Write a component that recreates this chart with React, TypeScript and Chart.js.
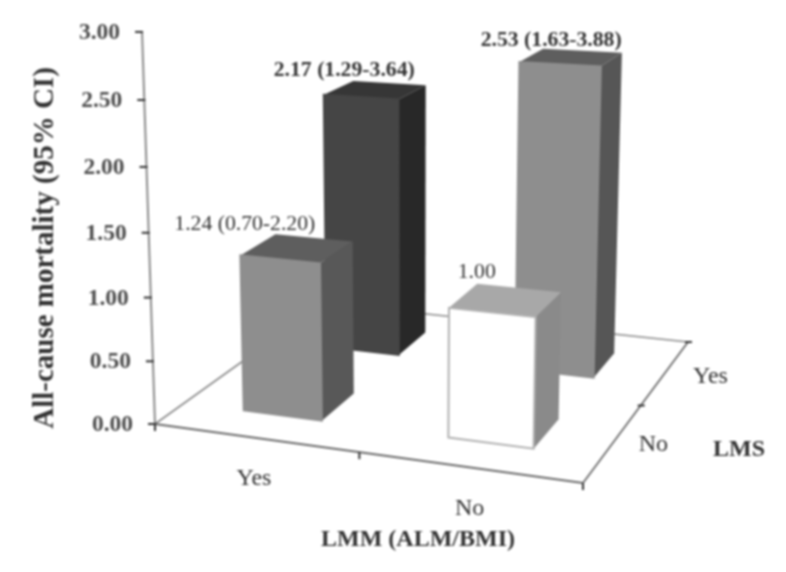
import React, { useEffect, useRef } from "react";
import { Chart, registerables } from "chart.js";

Chart.register(...registerables);

const lmmCategories = ["Yes", "No"];
const lmsCategories = ["No", "Yes"];
const hrWhenLmsNo = [1.24, 1.0];
const hrWhenLmsYes = [2.17, 2.53];
const labelsWhenLmsNo = ["1.24 (0.70-2.20)", "1.00"];
const labelsWhenLmsYes = ["2.17 (1.29-3.64)", "2.53 (1.63-3.88)"];
const yTitle = "All-cause mortality (95% CI)";
const xTitle = "LMM (ALM/BMI)";
const zTitle = "LMS";

const SERIF = '"Liberation Serif", "Times New Roman", serif';
const TEXT = "#333";

// perspective camera: floor corners in the picture and the vertical vanishing point
const FLOOR = { p00: [155, 424], p10: [583, 483], p11: [688, 342], p01: [324, 303] };
const VANISH = [412, 8200];
const RISE = 0.016;
const HALF = 0.098;

function makeProjector() {
  const [x0, y0] = FLOOR.p00;
  const [x1, y1] = FLOOR.p10;
  const [x2, y2] = FLOOR.p11;
  const [x3, y3] = FLOOR.p01;
  const dx1 = x1 - x2, dx2 = x3 - x2, sx = x0 - x1 + x2 - x3;
  const dy1 = y1 - y2, dy2 = y3 - y2, sy = y0 - y1 + y2 - y3;
  const den = dx1 * dy2 - dx2 * dy1;
  const g = (sx * dy2 - dx2 * sy) / den;
  const h = (dx1 * sy - sx * dy1) / den;
  const a = x1 - x0 + g * x1, b = x3 - x0 + h * x3;
  const d = y1 - y0 + g * y1, e = y3 - y0 + h * y3;
  return (u: number, v: number, value: number): [number, number] => {
    const t = RISE * value;
    const W = g * u + h * v + 1 - t;
    return [
      (a * u + b * v + x0 - t * VANISH[0]) / W,
      (d * u + e * v + y0 - t * VANISH[1]) / W,
    ];
  };
}

const project = makeProjector();

function poly(ctx: CanvasRenderingContext2D, pts: [number, number][], fill: string, stroke?: string) {
  ctx.beginPath();
  pts.forEach((p, i) => (i ? ctx.lineTo(p[0], p[1]) : ctx.moveTo(p[0], p[1])));
  ctx.closePath();
  ctx.fillStyle = fill;
  ctx.fill();
  if (stroke) {
    ctx.strokeStyle = stroke;
    ctx.lineWidth = 2;
    ctx.stroke();
  }
}

function seg(ctx: CanvasRenderingContext2D, a: number[], b: number[], color: string, w: number) {
  ctx.beginPath();
  ctx.moveTo(a[0], a[1]);
  ctx.lineTo(b[0], b[1]);
  ctx.strokeStyle = color;
  ctx.lineWidth = w;
  ctx.stroke();
}

function text(ctx: CanvasRenderingContext2D, s: string, x: number, y: number, font: string, align: CanvasTextAlign = "center", color: string = TEXT) {
  ctx.font = font;
  ctx.fillStyle = color;
  ctx.textAlign = align;
  ctx.textBaseline = "middle";
  ctx.fillText(s, x, y);
}

const bars3d = {
  id: "bars3d",
  beforeDatasetsDraw(chart: any) {
    const ctx: CanvasRenderingContext2D = chart.ctx;
    const yScale = chart.scales.y;
    ctx.save();

    // floor and value axis
    const AXIS = "#8a8a8a";
    const c00 = project(0, 0, 0), c10 = project(1, 0, 0), c11 = project(1, 1, 0), c01 = project(0, 1, 0);
    seg(ctx, c00, c01, AXIS, 1.6);
    seg(ctx, c01, c11, AXIS, 1.6);
    seg(ctx, c00, c10, "#6a6a6a", 1.8);
    seg(ctx, c10, c11, "#6a6a6a", 1.8);
    seg(ctx, project(0, 0, 0), project(0, 0, yScale.max), AXIS, 2);

    yScale.ticks.forEach((tick: any) => {
      const p = project(0, 0, tick.value);
      seg(ctx, [p[0] - 7, p[1]], [p[0] + 1, p[1]], "#333", 2);
      text(ctx, tick.value.toFixed(2), p[0] - 22, p[1] + 1, `bold 23.5px ${SERIF}`, "right", "#4c4c4c");
    });
    [0, 0.5, 1].forEach((u) => {
      const p = project(u, 0, 0);
      seg(ctx, [p[0], p[1]], [p[0], p[1] + 7], "#333", 2);
    });
    [0.5, 1].forEach((v) => {
      const p = project(1, v, 0);
      seg(ctx, [p[0] - 3, p[1]], [p[0] + 4, p[1]], "#333", 2);
    });

    // painter's order: rear row first
    const order = [...chart.data.datasets.keys()].reverse();
    order.forEach((di: number) => {
      const ds = chart.data.datasets[di];
      const v = (ds.lmsIndex + 0.5) / lmsCategories.length;
      ds.data.forEach((value: number, i: number) => {
        const u = (i + 0.5) / lmmCategories.length;
        const u0 = u - HALF, u1 = u + HALF, v0 = v - HALF, v1 = v + HALF;
        const frontFill = ds.backgroundColor[i];
        poly(ctx, [project(u1, v0, 0), project(u1, v1, 0), project(u1, v1, value), project(u1, v0, value)], ds.sideColor[i]);
        poly(ctx, [project(u0, v0, value), project(u1, v0, value), project(u1, v1, value), project(u0, v1, value)], ds.topColor[i]);
        poly(
          ctx,
          [project(u0, v0, 0), project(u1, v0, 0), project(u1, v0, value), project(u0, v0, value)],
          frontFill,
          ds.edgeColor[i]
        );
      });
    });

    // value labels
    chart.data.datasets.forEach((ds: any) => {
      const v = (ds.lmsIndex + 0.5) / lmsCategories.length;
      ds.data.forEach((value: number, i: number) => {
        const u = (i + 0.5) / lmmCategories.length;
        const p = project(u, v + HALF, value);
        const font = `${ds.labelBold ? "bold " : ""}21.7px ${SERIF}`;
        const off = ds.labelOffset[i];
        text(ctx, ds.valueLabels[i], p[0] + off[0], p[1] + off[1], font);
      });
    });

    // category and axis titles
    const catFont = `24px ${SERIF}`;
    const boldFont = `bold 24px ${SERIF}`;
    lmmCategories.forEach((c, i) => {
      const p = project((i + 0.5) / lmmCategories.length, 0, 0);
      text(ctx, c, p[0] - 1 + i * 2, p[1] + 41, catFont);
    });
    lmsCategories.forEach((c, j) => {
      const p = project(1, (j + 0.5) / lmsCategories.length, 0);
      text(ctx, c, p[0] + 40 + j * 5, p[1] + 2 + j * 2, catFont);
    });
    text(ctx, xTitle, 418, 540, boldFont);
    text(ctx, zTitle, 739, 450, boldFont);

    ctx.translate(46, 248);
    ctx.rotate(-Math.PI / 2);
    text(ctx, yTitle, 0, 0, `bold 29px ${SERIF}`);

    ctx.restore();
    return false;
  },
};

export default function App() {
  const ref = useRef<HTMLCanvasElement>(null);
  useEffect(() => {
    const chart = new Chart(ref.current!, {
      type: "bar",
      data: {
        labels: lmmCategories,
        datasets: [
          {
            label: "LMS No",
            data: hrWhenLmsNo,
            lmsIndex: 0,
            valueLabels: labelsWhenLmsNo,
            labelBold: false,
            labelOffset: [[-69, -14], [-42, -16]],
            backgroundColor: ["#8e8e8e", "#ffffff"],
            sideColor: ["#585858", "#8a8a8a"],
            topColor: ["#5e5e5e", "#a8a8a8"],
            edgeColor: ["#8e8e8e", "#b0b0b0"],
          },
          {
            label: "LMS Yes",
            data: hrWhenLmsYes,
            lmsIndex: 1,
            valueLabels: labelsWhenLmsYes,
            labelBold: true,
            labelOffset: [[-45, -13], [-31, -10]],
            backgroundColor: ["#454545", "#8e8e8e"],
            sideColor: ["#282828", "#565656"],
            topColor: ["#363636", "#5e5e5e"],
            edgeColor: ["#454545", "#8e8e8e"],
          },
        ] as any,
      },
      options: {
        responsive: false,
        animation: false,
        layout: { padding: 0 },
        plugins: { legend: { display: false }, tooltip: { enabled: false } },
        scales: {
          x: { display: false },
          y: { display: false, min: 0, max: 3, ticks: { stepSize: 0.5 } },
        },
      },
      plugins: [bars3d],
    });
    return () => chart.destroy();
  }, []);
  return (
    <canvas
      ref={ref}
      width={786}
      height={572}
      style={{ position: "absolute", left: 0, top: 0, filter: "blur(0.9px)", background: "#fff" }}
    />
  );
}
